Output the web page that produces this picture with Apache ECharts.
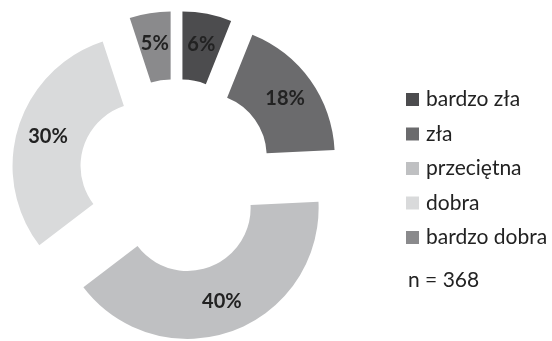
<!DOCTYPE html>
<html>
<head>
<meta charset="utf-8">
<script src="https://cdn.jsdelivr.net/npm/echarts@6/dist/echarts.min.js"></script>
<style>
  html, body { margin: 0; padding: 0; background: #fff; }
  #chart { width: 552px; height: 341px; }
</style>
</head>
<body>
<div id="chart"></div>
<script>
// Ocena: rozkład odpowiedzi (procent)
const categories = ['bardzo zła', 'zła', 'przeciętna', 'dobra', 'bardzo dobra'];
const values = [6, 18, 40, 30, 5];
const colors = ['#4c4c4e', '#6b6b6d', '#bfc0c2', '#d9dadb', '#8a8a8c'];
const sampleNote = 'n = 368';

const FONT = 'Lato, "Open Sans", sans-serif';

const chart = echarts.init(document.getElementById('chart'));
chart.setOption({
  animation: false,
  backgroundColor: '#ffffff',
  color: colors,
  legend: {
    orient: 'vertical',
    left: 406,
    top: 89,
    padding: 0,
    icon: 'rect',
    itemWidth: 13,
    itemHeight: 13,
    itemGap: 13.5,
    selectedMode: false,
    data: categories,
    textStyle: { fontFamily: FONT, fontSize: 21, lineHeight: 20, color: '#222', padding: [0, 0, 0, 2] }
  },
  graphic: [{
    type: 'text',
    left: 408,
    top: 270,
    style: { text: sampleNote, fontFamily: FONT, fontSize: 21, fill: '#222' }
  }],
  series: [{
    type: 'pie',
    center: [176, 176],
    radius: [63, 131],
    startAngle: 90,
    clockwise: true,
    selectedMode: 'multiple',
    selectedOffset: 34,
    avoidLabelOverlap: false,
    emphasis: { disabled: true },
    label: {
      show: true,
      position: 'inside',
      formatter: p => p.value + '%',
      fontFamily: FONT,
      fontWeight: 'bold',
      fontSize: 20,
      color: '#222'
    },
    labelLine: { show: false },
    itemStyle: { borderWidth: 0 },
    data: categories.map((name, i) => ({ name, value: values[i], selected: true }))
  }]
});
</script>
</body>
</html>
